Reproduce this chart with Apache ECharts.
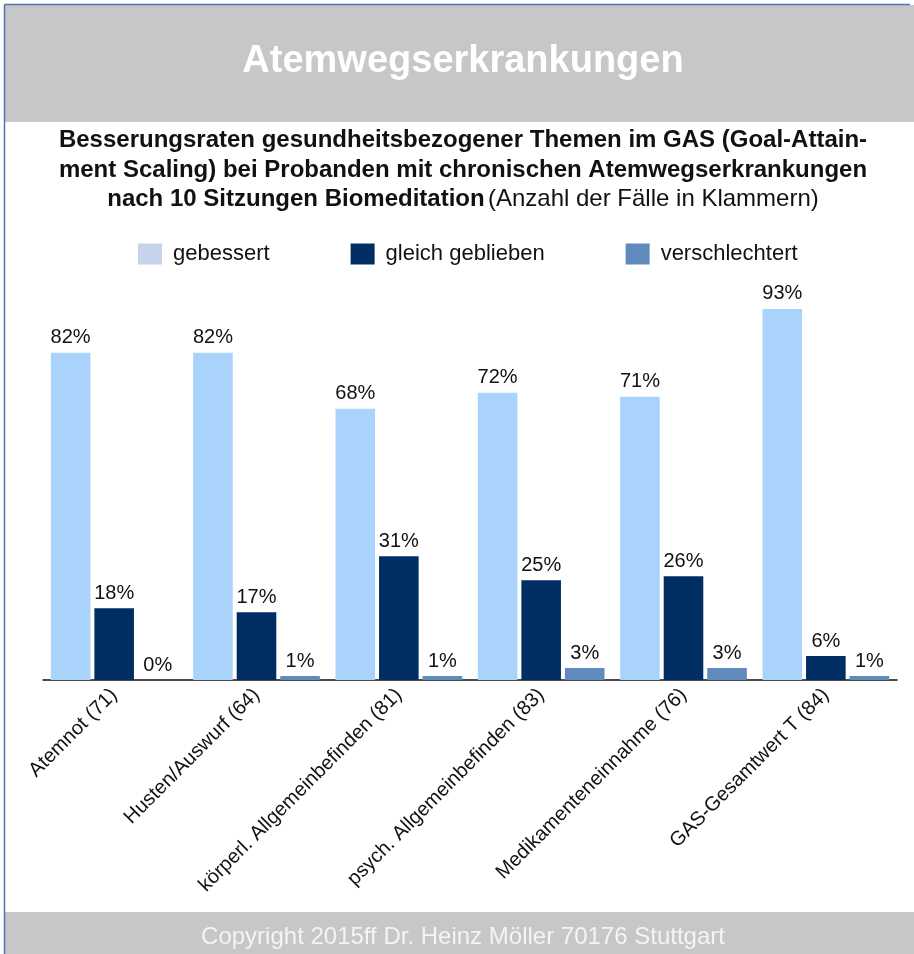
<!DOCTYPE html>
<html>
<head>
    <meta charset="utf-8">
    <title>Atemwegserkrankungen</title>
    <script src="https://cdn.jsdelivr.net/npm/echarts@6/dist/echarts.min.js"></script>
    <style>
        html, body { margin: 0; padding: 0; background: #fff; }
        #chart { width: 914px; height: 954px; }
    </style>
</head>
<body>
<div id="chart"></div>
<script>
    var categories = ['Atemnot (71)', 'Husten/Auswurf (64)', 'körperl. Allgemeinbefinden (81)',
        'psych. Allgemeinbefinden (83)', 'Medikamenteneinnahme (76)', 'GAS-Gesamtwert T (84)'];
    var gebessert = [82, 82, 68, 72, 71, 93];
    var gleichGeblieben = [18, 17, 31, 25, 26, 6];
    var verschlechtert = [0, 1, 1, 3, 3, 1];

    var font = '"Liberation Sans", Arial, Helvetica, sans-serif';
    var cx = 463;

    var chart = echarts.init(document.getElementById('chart'));

    function bar(name, data, color) {
        return {
            name: name,
            type: 'bar',
            data: data,
            barGap: '10%',
            barCategoryGap: '11%',
            itemStyle: { color: color },
            label: {
                show: true,
                position: 'top',
                distance: 5,
                formatter: '{c}%',
                fontFamily: font,
                fontSize: 20,
                color: '#111'
            }
        };
    }

    function centerText(txt, y, f, fill) {
        return {
            type: 'text',
            style: { text: txt, x: cx, y: y, align: 'center', verticalAlign: 'middle', font: f, fill: fill }
        };
    }

    chart.setOption({
        animation: false,
        textStyle: { fontFamily: font },
        graphic: [
            // header + footer bands, thin frame line
            { type: 'rect', shape: { x: 5, y: 5, width: 909, height: 117 }, style: { fill: '#c6c7c9' } },
            { type: 'rect', shape: { x: 5, y: 912, width: 909, height: 42 }, style: { fill: '#c6c7c9' } },
            { type: 'line', shape: { x1: 4.5, y1: 4.5, x2: 910, y2: 4.5 }, style: { stroke: '#4f74a8', lineWidth: 1.5 } },
            { type: 'line', shape: { x1: 4.5, y1: 4.5, x2: 4.5, y2: 954 }, style: { stroke: '#4f74a8', lineWidth: 1.5 } },
            centerText('Atemwegserkrankungen', 62, 'bold 38px ' + font, '#fff'),
            centerText('Copyright 2015ff Dr. Heinz Möller 70176 Stuttgart', 937, '24px ' + font, '#f4f4f4'),
            centerText('Besserungsraten gesundheitsbezogener Themen im GAS (Goal-Attain-', 140, 'bold 24px ' + font, '#111'),
            centerText('ment Scaling) bei Probanden mit chronischen Atemwegserkrankungen', 170, 'bold 24px ' + font, '#111'),
            {
                type: 'text',
                style: {
                    text: '{b|nach 10 Sitzungen Biomeditation} {n|(Anzahl der Fälle in Klammern)}',
                    x: cx, y: 199, align: 'center', verticalAlign: 'middle',
                    rich: {
                        b: { font: 'bold 24px ' + font, fill: '#111' },
                        n: { font: '24px ' + font, fill: '#111' }
                    }
                }
            }
        ],
        legend: {
            top: 243,
            left: 138,
            padding: 0,
            itemWidth: 24,
            itemHeight: 21,
            itemGap: 81,
            icon: 'rect',
            textStyle: { fontSize: 22, color: '#111', fontFamily: font, padding: [0, 0, 0, 6] },
            data: [
                { name: 'gebessert', itemStyle: { color: '#c5d4ea' } },
                { name: 'gleich geblieben' },
                { name: 'verschlechtert' }
            ]
        },
        grid: { left: 43, right: 17, top: 281, bottom: 274 },
        xAxis: {
            type: 'category',
            data: categories,
            axisLine: { lineStyle: { color: '#111', width: 1.5 } },
            axisTick: { show: false },
            axisLabel: {
                interval: 0,
                rotate: 45,
                margin: 12,
                fontSize: 20,
                color: '#111',
                fontFamily: font
            }
        },
        yAxis: { type: 'value', min: 0, max: 100, show: false, splitLine: { show: false } },
        series: [
            bar('gebessert', gebessert, '#a9d3fb'),
            bar('gleich geblieben', gleichGeblieben, '#002d62'),
            bar('verschlechtert', verschlechtert, '#6089bc')
        ]
    });
</script>
</body>
</html>
